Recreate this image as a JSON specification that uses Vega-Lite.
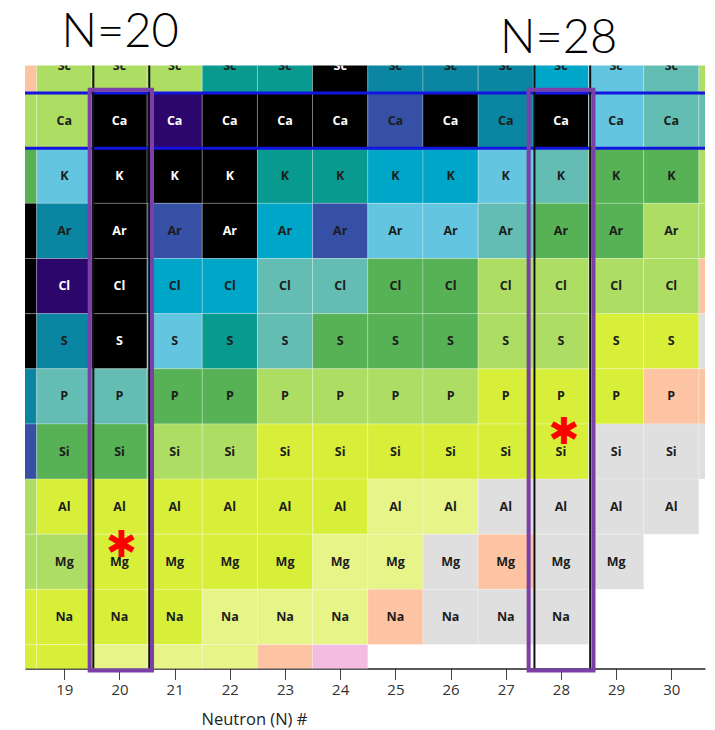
{
  "$schema": "https://vega.github.io/schema/vega-lite/v6.json",
  "width": 680,
  "height": 603,
  "autosize": "none",
  "padding": {"left": 25, "top": 65.5, "right": 10, "bottom": 61.5},
  "background": "white",
  "view": {"stroke": null},
  "datasets": {
    "cells": [
      {"N":18,"Z":21,"el":"Sc","c":"SA"},{"N":19,"Z":21,"el":"Sc","c":"LG"},{"N":20,"Z":21,"el":"Sc","c":"LG"},{"N":21,"Z":21,"el":"Sc","c":"LG"},{"N":22,"Z":21,"el":"Sc","c":"TE"},{"N":23,"Z":21,"el":"Sc","c":"TE"},{"N":24,"Z":21,"el":"Sc","c":"stable"},{"N":25,"Z":21,"el":"Sc","c":"DT"},{"N":26,"Z":21,"el":"Sc","c":"DT"},{"N":27,"Z":21,"el":"Sc","c":"DT"},{"N":28,"Z":21,"el":"Sc","c":"CY"},{"N":29,"Z":21,"el":"Sc","c":"LC"},{"N":30,"Z":21,"el":"Sc","c":"LT"},{"N":31,"Z":21,"el":"Sc","c":"LG"},
      {"N":18,"Z":20,"el":"Ca","c":"LG"},{"N":19,"Z":20,"el":"Ca","c":"LG"},{"N":20,"Z":20,"el":"Ca","c":"stable"},{"N":21,"Z":20,"el":"Ca","c":"DP"},{"N":22,"Z":20,"el":"Ca","c":"stable"},{"N":23,"Z":20,"el":"Ca","c":"stable"},{"N":24,"Z":20,"el":"Ca","c":"stable"},{"N":25,"Z":20,"el":"Ca","c":"BL"},{"N":26,"Z":20,"el":"Ca","c":"stable"},{"N":27,"Z":20,"el":"Ca","c":"DT"},{"N":28,"Z":20,"el":"Ca","c":"stable"},{"N":29,"Z":20,"el":"Ca","c":"LC"},{"N":30,"Z":20,"el":"Ca","c":"LT"},{"N":31,"Z":20,"el":"Ca","c":"LT"},
      {"N":18,"Z":19,"el":"K","c":"GR"},{"N":19,"Z":19,"el":"K","c":"LC"},{"N":20,"Z":19,"el":"K","c":"stable"},{"N":21,"Z":19,"el":"K","c":"stable"},{"N":22,"Z":19,"el":"K","c":"stable"},{"N":23,"Z":19,"el":"K","c":"TE"},{"N":24,"Z":19,"el":"K","c":"TE"},{"N":25,"Z":19,"el":"K","c":"CY"},{"N":26,"Z":19,"el":"K","c":"CY"},{"N":27,"Z":19,"el":"K","c":"LC"},{"N":28,"Z":19,"el":"K","c":"LT"},{"N":29,"Z":19,"el":"K","c":"GR"},{"N":30,"Z":19,"el":"K","c":"GR"},{"N":31,"Z":19,"el":"K","c":"LG"},
      {"N":18,"Z":18,"el":"Ar","c":"stable"},{"N":19,"Z":18,"el":"Ar","c":"DT"},{"N":20,"Z":18,"el":"Ar","c":"stable"},{"N":21,"Z":18,"el":"Ar","c":"BL"},{"N":22,"Z":18,"el":"Ar","c":"stable"},{"N":23,"Z":18,"el":"Ar","c":"CY"},{"N":24,"Z":18,"el":"Ar","c":"BL"},{"N":25,"Z":18,"el":"Ar","c":"LC"},{"N":26,"Z":18,"el":"Ar","c":"LC"},{"N":27,"Z":18,"el":"Ar","c":"LT"},{"N":28,"Z":18,"el":"Ar","c":"GR"},{"N":29,"Z":18,"el":"Ar","c":"GR"},{"N":30,"Z":18,"el":"Ar","c":"LG"},{"N":31,"Z":18,"el":"Ar","c":"LG"},
      {"N":18,"Z":17,"el":"Cl","c":"stable"},{"N":19,"Z":17,"el":"Cl","c":"DP"},{"N":20,"Z":17,"el":"Cl","c":"stable"},{"N":21,"Z":17,"el":"Cl","c":"CY"},{"N":22,"Z":17,"el":"Cl","c":"CY"},{"N":23,"Z":17,"el":"Cl","c":"LT"},{"N":24,"Z":17,"el":"Cl","c":"LT"},{"N":25,"Z":17,"el":"Cl","c":"GR"},{"N":26,"Z":17,"el":"Cl","c":"GR"},{"N":27,"Z":17,"el":"Cl","c":"LG"},{"N":28,"Z":17,"el":"Cl","c":"LG"},{"N":29,"Z":17,"el":"Cl","c":"LG"},{"N":30,"Z":17,"el":"Cl","c":"LG"},{"N":31,"Z":17,"el":"Cl","c":"SA"},
      {"N":18,"Z":16,"el":"S","c":"stable"},{"N":19,"Z":16,"el":"S","c":"DT"},{"N":20,"Z":16,"el":"S","c":"stable"},{"N":21,"Z":16,"el":"S","c":"LC"},{"N":22,"Z":16,"el":"S","c":"TE"},{"N":23,"Z":16,"el":"S","c":"LT"},{"N":24,"Z":16,"el":"S","c":"GR"},{"N":25,"Z":16,"el":"S","c":"GR"},{"N":26,"Z":16,"el":"S","c":"GR"},{"N":27,"Z":16,"el":"S","c":"LG"},{"N":28,"Z":16,"el":"S","c":"LG"},{"N":29,"Z":16,"el":"S","c":"YG"},{"N":30,"Z":16,"el":"S","c":"YG"},{"N":31,"Z":16,"el":"S","c":"GY"},
      {"N":18,"Z":15,"el":"P","c":"DT"},{"N":19,"Z":15,"el":"P","c":"LT"},{"N":20,"Z":15,"el":"P","c":"LT"},{"N":21,"Z":15,"el":"P","c":"GR"},{"N":22,"Z":15,"el":"P","c":"GR"},{"N":23,"Z":15,"el":"P","c":"LG"},{"N":24,"Z":15,"el":"P","c":"LG"},{"N":25,"Z":15,"el":"P","c":"LG"},{"N":26,"Z":15,"el":"P","c":"LG"},{"N":27,"Z":15,"el":"P","c":"YG"},{"N":28,"Z":15,"el":"P","c":"YG"},{"N":29,"Z":15,"el":"P","c":"YG"},{"N":30,"Z":15,"el":"P","c":"SA"},{"N":31,"Z":15,"el":"P","c":"SA"},
      {"N":18,"Z":14,"el":"Si","c":"BL"},{"N":19,"Z":14,"el":"Si","c":"GR"},{"N":20,"Z":14,"el":"Si","c":"GR"},{"N":21,"Z":14,"el":"Si","c":"LG"},{"N":22,"Z":14,"el":"Si","c":"LG"},{"N":23,"Z":14,"el":"Si","c":"YG"},{"N":24,"Z":14,"el":"Si","c":"YG"},{"N":25,"Z":14,"el":"Si","c":"YG"},{"N":26,"Z":14,"el":"Si","c":"YG"},{"N":27,"Z":14,"el":"Si","c":"YG"},{"N":28,"Z":14,"el":"Si","c":"YG"},{"N":29,"Z":14,"el":"Si","c":"GY"},{"N":30,"Z":14,"el":"Si","c":"GY"},{"N":31,"Z":14,"el":"Si","c":"GY"},
      {"N":18,"Z":13,"el":"Al","c":"LG"},{"N":19,"Z":13,"el":"Al","c":"YG"},{"N":20,"Z":13,"el":"Al","c":"YG"},{"N":21,"Z":13,"el":"Al","c":"YG"},{"N":22,"Z":13,"el":"Al","c":"YG"},{"N":23,"Z":13,"el":"Al","c":"YG"},{"N":24,"Z":13,"el":"Al","c":"YG"},{"N":25,"Z":13,"el":"Al","c":"PY"},{"N":26,"Z":13,"el":"Al","c":"PY"},{"N":27,"Z":13,"el":"Al","c":"GY"},{"N":28,"Z":13,"el":"Al","c":"GY"},{"N":29,"Z":13,"el":"Al","c":"GY"},{"N":30,"Z":13,"el":"Al","c":"GY"},
      {"N":18,"Z":12,"el":"Mg","c":"LG"},{"N":19,"Z":12,"el":"Mg","c":"LG"},{"N":20,"Z":12,"el":"Mg","c":"YG"},{"N":21,"Z":12,"el":"Mg","c":"YG"},{"N":22,"Z":12,"el":"Mg","c":"YG"},{"N":23,"Z":12,"el":"Mg","c":"YG"},{"N":24,"Z":12,"el":"Mg","c":"PY"},{"N":25,"Z":12,"el":"Mg","c":"PY"},{"N":26,"Z":12,"el":"Mg","c":"GY"},{"N":27,"Z":12,"el":"Mg","c":"SA"},{"N":28,"Z":12,"el":"Mg","c":"GY"},{"N":29,"Z":12,"el":"Mg","c":"GY"},
      {"N":18,"Z":11,"el":"Na","c":"YG"},{"N":19,"Z":11,"el":"Na","c":"YG"},{"N":20,"Z":11,"el":"Na","c":"YG"},{"N":21,"Z":11,"el":"Na","c":"YG"},{"N":22,"Z":11,"el":"Na","c":"PY"},{"N":23,"Z":11,"el":"Na","c":"PY"},{"N":24,"Z":11,"el":"Na","c":"PY"},{"N":25,"Z":11,"el":"Na","c":"SA"},{"N":26,"Z":11,"el":"Na","c":"GY"},{"N":27,"Z":11,"el":"Na","c":"GY"},{"N":28,"Z":11,"el":"Na","c":"GY"},
      {"N":18,"Z":10,"el":"Ne","c":"YG"},{"N":19,"Z":10,"el":"Ne","c":"YG"},{"N":20,"Z":10,"el":"Ne","c":"PY"},{"N":21,"Z":10,"el":"Ne","c":"PY"},{"N":22,"Z":10,"el":"Ne","c":"PY"},{"N":23,"Z":10,"el":"Ne","c":"SA"},{"N":24,"Z":10,"el":"Ne","c":"PK"}
    ],
    "hlines": [{"Z":19.5},{"Z":20.5}],
    "vlines": [{"N":19.526},{"N":20.54},{"N":27.52},{"N":28.53}],
    "boxes": [
      {"N":19.46,"N2":20.59,"Z":10.03,"Z2":20.56},
      {"N":27.415,"N2":28.59,"Z":10.03,"Z2":20.56}
    ],
    "stars": [{"N":20.03,"Z":12.29},{"N":28.05,"Z":14.33}],
    "labels": [{"N":20.01,"Z":21.334,"t":"N=20"},{"N":27.96,"Z":21.225,"t":"N=28"}]
  },
  "layer": [
    {
      "data": {"name": "cells"},
      "mark": {"type": "rect", "width": 55.18, "height": 55.14, "clip": true, "stroke": "white", "strokeWidth": 1, "strokeOpacity": 0.25},
      "encoding": {
        "x": {"field": "N", "type": "quantitative",
              "scale": {"domain": [18.288, 30.611], "nice": false, "zero": false},
              "axis": {"values": [19,20,21,22,23,24,25,26,27,28,29,30], "title": "Neutron (N) #", "grid": false,
                       "domainColor": "#222", "domainWidth": 1.5, "tickColor": "#444", "tickSize": 11, "tickWidth": 1,
                       "labelFont": "Open Sans", "labelFontSize": 15, "labelColor": "#333", "labelPadding": 3,
                       "titleFont": "Open Sans", "titleFontSize": 16.5, "titleFontWeight": "normal", "titleColor": "#222",
                       "titleBaseline": "alphabetic", "titleX": 229, "titleY": 56}},
        "y": {"field": "Z", "type": "quantitative",
              "scale": {"domain": [10.065, 21.0], "nice": false, "zero": false}, "axis": null},
        "color": {"field": "c", "type": "nominal", "legend": null,
                  "scale": {"domain": ["stable","DP","BL","DT","CY","LC","TE","LT","GR","LG","YG","PY","SA","PK","GY"],
                            "range": ["#000000","#2c066b","#3550a5","#0a85a2","#00a6c7","#63c5df","#08998f","#64bdb3","#56b254","#aedd63","#d8ef3a","#e6f488","#fdc4a3","#f2bde0","#dfdfdf"]}}
      }
    },
    {
      "data": {"name": "cells"},
      "transform": [{"filter": "datum.N >= 19 && datum.N <= 30 && datum.Z >= 11"}],
      "mark": {"type": "text", "clip": true, "font": "Open Sans", "fontWeight": "bold", "fontSize": 12.5, "baseline": "middle", "align": "center"},
      "encoding": {
        "x": {"field": "N", "type": "quantitative"},
        "y": {"field": "Z", "type": "quantitative", "axis": null},
        "text": {"field": "el"},
        "color": {"condition": {"test": "datum.c === 'stable' || datum.c === 'DP'", "value": "#ffffff"}, "value": "#1c1c1c"}
      }
    },
    {
      "data": {"name": "hlines"},
      "mark": {"type": "rule", "color": "#1414e0", "strokeWidth": 3},
      "encoding": {
        "y": {"field": "Z", "type": "quantitative", "axis": null}
      }
    },
    {
      "data": {"name": "vlines"},
      "mark": {"type": "rule", "color": "#111111", "strokeWidth": 2},
      "encoding": {
        "x": {"field": "N", "type": "quantitative"}
      }
    },
    {
      "data": {"name": "boxes"},
      "mark": {"type": "rect", "fill": null, "fillOpacity": 0, "stroke": "#7b3fa8", "strokeWidth": 4},
      "encoding": {
        "x": {"field": "N", "type": "quantitative"},
        "x2": {"field": "N2"},
        "y": {"field": "Z", "type": "quantitative", "axis": null},
        "y2": {"field": "Z2"}
      }
    },
    {
      "data": {"name": "stars"},
      "mark": {"type": "text", "text": "✱", "color": "#ff0000", "fontSize": 37, "font": "DejaVu Sans", "baseline": "middle", "align": "center"},
      "encoding": {
        "x": {"field": "N", "type": "quantitative"},
        "y": {"field": "Z", "type": "quantitative", "axis": null}
      }
    },
    {
      "data": {"name": "labels"},
      "mark": {"type": "text", "font": "Lato", "fontWeight": 300, "fontSize": 47, "color": "#000000", "baseline": "alphabetic", "align": "center"},
      "encoding": {
        "x": {"field": "N", "type": "quantitative"},
        "y": {"field": "Z", "type": "quantitative", "axis": null},
        "text": {"field": "t"}
      }
    }
  ]
}
